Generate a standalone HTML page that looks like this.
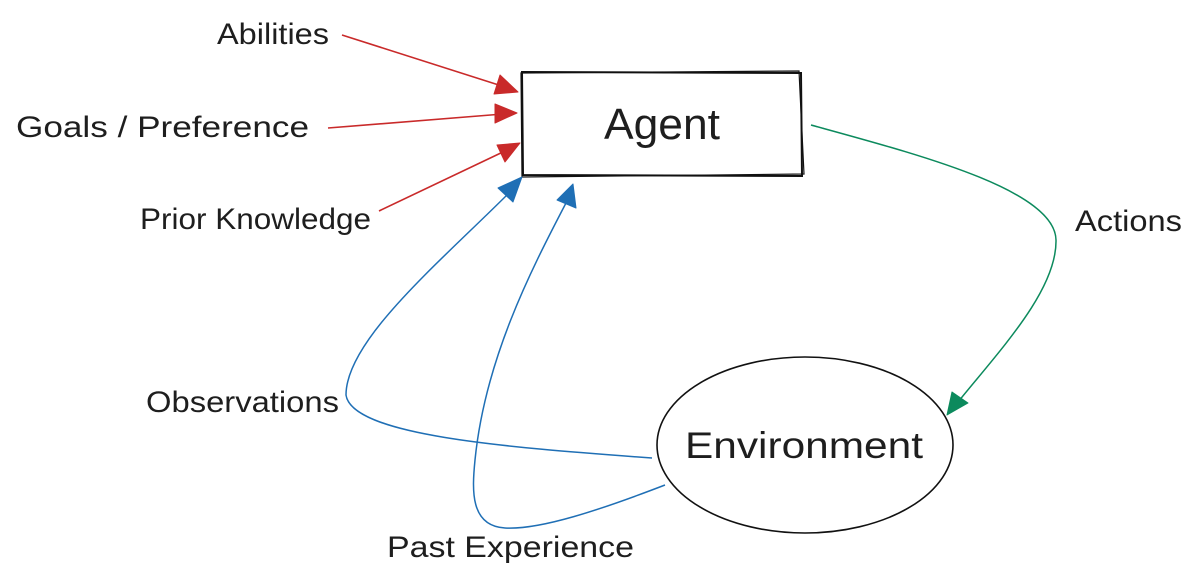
<!DOCTYPE html>
<html>
<head>
<meta charset="utf-8">
<style>
  html, body { margin:0; padding:0; background:#ffffff; }
  body { width:1200px; height:585px; overflow:hidden; }
  svg { display:block; }
  text { font-family: "Liberation Sans", "DejaVu Sans", sans-serif; fill:#1e1e1e; }
</style>
</head>
<body>
<svg width="1200" height="585" viewBox="0 0 1200 585" xmlns="http://www.w3.org/2000/svg">
  <rect x="0" y="0" width="1200" height="585" fill="#ffffff"/>

  <!-- Agent box (sketchy double stroke) -->
  <path d="M522 72 L801 73 L802 176 L523 175 Z" fill="none" stroke="#111" stroke-width="2"/>
  <path d="M521 73 L799 71 L804 174 L522 177 Z" fill="none" stroke="#111" stroke-width="1.2"/>
  <text x="604" y="139" font-size="44" textLength="116" lengthAdjust="spacingAndGlyphs">Agent</text>

  <!-- Environment ellipse -->
  <ellipse cx="805" cy="445" rx="148" ry="88" fill="none" stroke="#111" stroke-width="1.6"/>
  <text x="685" y="458" font-size="37" textLength="238" lengthAdjust="spacingAndGlyphs">Environment</text>

  <!-- Red arrows -->
  <g stroke="#c92a2a" stroke-width="1.6" fill="none">
    <line x1="342" y1="35" x2="505" y2="87"/>
    <line x1="328" y1="128" x2="503" y2="114"/>
    <line x1="379" y1="211" x2="505" y2="151"/>
  </g>
  <g fill="#c92a2a" stroke="#c92a2a" stroke-width="1" stroke-linejoin="round">
    <polygon points="500,75 518,92 494,94"/>
    <polygon points="495,104 517,113 495,123"/>
    <polygon points="497,145 520,143 505,162"/>
  </g>

  <!-- Blue arrows -->
  <g stroke="#1f6fb5" stroke-width="1.5" fill="none">
    <path d="M652 458 C 500 447, 352 435, 346 395 C 346 340, 440 262, 510 192"/>
    <path d="M665 485 C 600 510, 540 530, 505 528 C 470 526, 472 490, 475 460 C 485 360, 530 272, 566 203"/>
  </g>
  <g fill="#1f6fb5" stroke="#1f6fb5" stroke-width="1" stroke-linejoin="round">
    <polygon points="498,188 522,177 513,202"/>
    <polygon points="557,200 573,184 576,208"/>
  </g>

  <!-- Green arrow -->
  <path d="M811 125 C 920 155, 1055 190, 1056 240 C 1057 290, 1000 350, 958 402" stroke="#0c8a5d" stroke-width="1.5" fill="none"/>
  <polygon points="952,392 968,403 947,415" fill="#0c8a5d" stroke="#0c8a5d" stroke-width="1" stroke-linejoin="round"/>

  <!-- Labels -->
  <text x="217" y="44" font-size="30" textLength="112" lengthAdjust="spacingAndGlyphs">Abilities</text>
  <text x="16" y="137" font-size="30" textLength="293" lengthAdjust="spacingAndGlyphs">Goals / Preference</text>
  <text x="140" y="229" font-size="30" textLength="231" lengthAdjust="spacingAndGlyphs">Prior Knowledge</text>
  <text x="1075" y="231" font-size="30" textLength="107" lengthAdjust="spacingAndGlyphs">Actions</text>
  <text x="146" y="412" font-size="30" textLength="193" lengthAdjust="spacingAndGlyphs">Observations</text>
  <text x="387" y="557" font-size="30" textLength="247" lengthAdjust="spacingAndGlyphs">Past Experience</text>
</svg>
</body>
</html>
